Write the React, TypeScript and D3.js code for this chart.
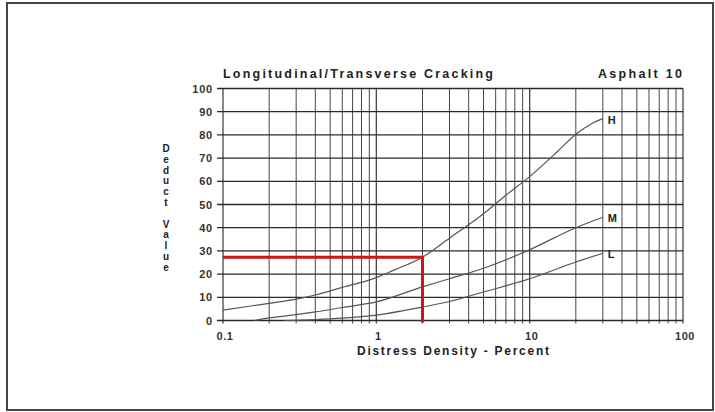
import React from 'react';
import * as d3 from 'd3';

const width = 715;
const height = 412;

// curve readings (distress density %, deduct value)
const hX = [0.1, 0.2, 0.3, 0.4, 0.6, 1, 1.3, 2, 3, 5, 7, 10, 15, 20, 25, 30];
const hY = [4.5, 7.4, 9.2, 11, 14.3, 18.5, 21.7, 27.3, 35.5, 46, 54, 62, 72.5, 80.3, 84.6, 87];
const mX = [0.16, 0.2, 0.3, 0.4, 0.6, 1, 2, 3, 5, 10, 20, 30];
const mY = [0, 1.1, 2.5, 3.7, 5.6, 8, 14.5, 18, 22.5, 30.5, 40, 44.5];
const lX = [0.25, 0.4, 0.6, 1, 2, 3, 5, 10, 20, 30];
const lY = [0, 0.4, 1, 2.3, 5.8, 8.2, 12.3, 18, 25.2, 29];

const curveNames = ['H', 'M', 'L'];
const xTickLabels = ['0.1', '1', '10', '100'];
const yTicks = [0, 10, 20, 30, 40, 50, 60, 70, 80, 90, 100];
const marker = { x: 2, y: 27.3 };

const title = 'Longitudinal/Transverse Cracking';
const subtitle = 'Asphalt 10';
const xTitle = 'Distress Density - Percent';
const yTitle = 'Deduct Value';

const font = '"Liberation Sans", Arial, sans-serif';

const App = () => {
  const xScale = d3.scaleLog().domain([0.1, 100]).range([223, 683]);
  const yScale = d3.scaleLinear().domain([0, 100]).range([320.5, 88.5]);
  const [x0, x1] = xScale.range();
  const [y0, y1] = yScale.range();

  const minorX: number[] = [];
  [0.1, 1, 10].forEach((dec) => {
    for (let k = 1; k <= 9; k++) minorX.push(+(dec * k).toPrecision(3));
  });
  minorX.push(100);

  const line = d3
    .line<[number, number]>()
    .x((d) => xScale(d[0]))
    .y((d) => yScale(d[1]))
    .curve(d3.curveMonotoneX);

  const series = [
    { name: curveNames[0], pts: hX.map((x, i) => [x, hY[i]] as [number, number]) },
    { name: curveNames[1], pts: mX.map((x, i) => [x, mY[i]] as [number, number]) },
    { name: curveNames[2], pts: lX.map((x, i) => [x, lY[i]] as [number, number]) },
  ];

  return (
    <svg
      width={width}
      height={height}
      style={{ position: 'absolute', left: 0, top: 0, background: '#fff' }}
    >
      <rect x={7} y={3} width={706} height={407} fill="#fff" stroke="#444" strokeWidth={2} />

      {/* grid */}
      {minorX.map((v) => {
        const major = Math.abs(Math.log10(v) - Math.round(Math.log10(v))) < 1e-6;
        return (
          <line
            key={'vx' + v}
            x1={xScale(v)}
            x2={xScale(v)}
            y1={y1}
            y2={y0 + 3}
            stroke="#333"
            strokeWidth={major ? 1.3 : 1}
            opacity={0.9}
          />
        );
      })}
      {yTicks.map((t) => (
        <line
          key={'hy' + t}
          x1={x0 - 6}
          x2={x1}
          y1={yScale(t)}
          y2={yScale(t)}
          stroke="#2a2a2a"
          strokeWidth={1.3}
        />
      ))}

      {/* curves */}
      {series.map((s) => (
        <g key={s.name}>
          <path d={line(s.pts) || ''} fill="none" stroke="#555" strokeWidth={1.2} />
          <text
            x={xScale(s.pts[s.pts.length - 1][0]) + 5}
            y={yScale(s.pts[s.pts.length - 1][1]) + 5}
            fontFamily={font}
            fontWeight="bold"
            fontSize={11}
            fill="#222"
          >
            {s.name}
          </text>
        </g>
      ))}

      {/* red reading lines */}
      <path
        d={`M${x0},${yScale(marker.y)}H${xScale(marker.x)}V${y0 + 2}`}
        fill="none"
        stroke="#d01515"
        strokeWidth={3}
      />

      {/* y tick labels */}
      {yTicks.map((t) => (
        <text
          key={'yl' + t}
          x={213}
          y={yScale(t) + 4}
          textAnchor="end"
          fontFamily={font}
          fontWeight="bold"
          fontSize={11}
          letterSpacing={0.8}
          fill="#333"
        >
          {t}
        </text>
      ))}

      {/* x tick labels */}
      {xTickLabels.map((t) => (
        <text
          key={'xl' + t}
          x={xScale(+t) + 2}
          y={340}
          textAnchor="middle"
          fontFamily={font}
          fontWeight="bold"
          fontSize={11}
          letterSpacing={0.6}
          fill="#333"
        >
          {t}
        </text>
      ))}

      {/* titles */}
      <text
        x={223}
        y={78}
        fontFamily={font}
        fontWeight="bold"
        fontSize={12.5}
        textLength={270}
        lengthAdjust="spacing"
        fill="#222"
      >
        {title}
      </text>
      <text
        x={598}
        y={78}
        fontFamily={font}
        fontWeight="bold"
        fontSize={12.5}
        textLength={84}
        lengthAdjust="spacing"
        fill="#222"
      >
        {subtitle}
      </text>
      <text
        x={357}
        y={355}
        fontFamily={font}
        fontWeight="bold"
        fontSize={12}
        textLength={192}
        lengthAdjust="spacing"
        fill="#222"
      >
        {xTitle}
      </text>
      {yTitle.split('').map((ch, i) => (
        <text
          key={'yt' + i}
          x={166}
          y={152 + i * 10.8}
          textAnchor="middle"
          fontFamily={font}
          fontWeight="bold"
          fontSize={10}
          fill="#222"
        >
          {ch}
        </text>
      ))}
    </svg>
  );
};

export default App;
